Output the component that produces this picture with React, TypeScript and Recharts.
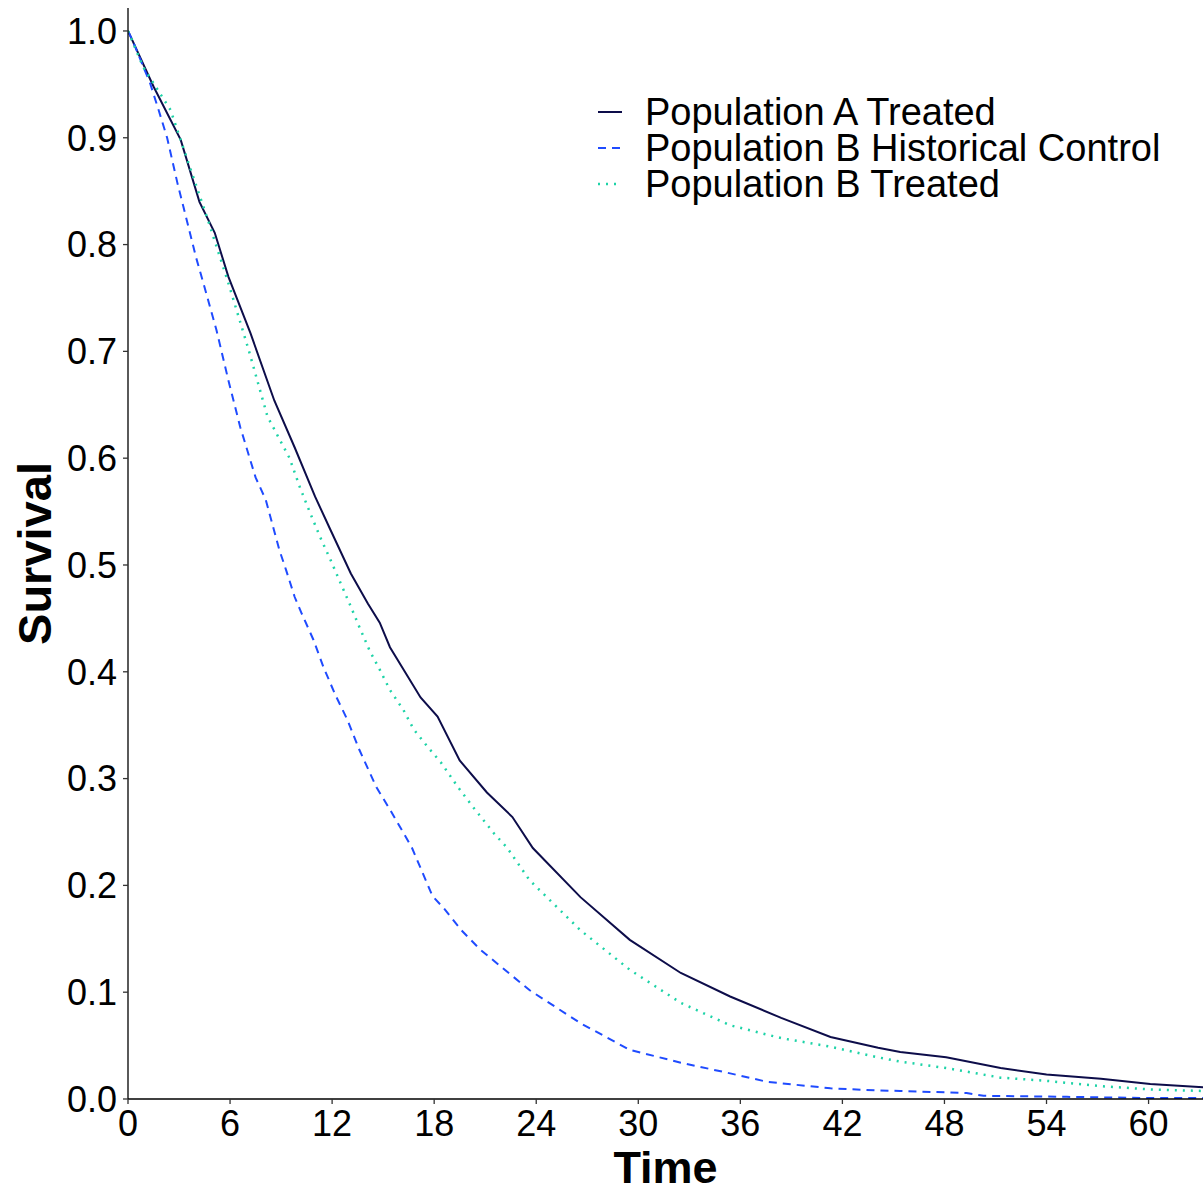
import { LineChart, Line, XAxis, YAxis } from 'recharts';

const FONT = '"Liberation Sans", Arial, sans-serif';

// Population A Treated (solid)
const timeA = [0, 1.5, 3.1, 4.2, 5.1, 5.9, 7.2, 8.6, 9.8, 11.0, 11.9, 13.1, 14.1, 14.8, 15.4, 17.2, 18.2, 19.5, 21.1, 22.6, 23.8, 26.6, 29.5, 32.5, 35.4, 38.4, 41.3, 44.1, 45.4, 48.1, 51.3, 54, 57.2, 60.1, 63.2];
const survA = [1, 0.948, 0.898, 0.84, 0.811, 0.77, 0.717, 0.654, 0.61, 0.564, 0.533, 0.492, 0.464, 0.446, 0.423, 0.376, 0.358, 0.317, 0.287, 0.264, 0.235, 0.189, 0.149, 0.118, 0.096, 0.076, 0.058, 0.048, 0.044, 0.039, 0.029, 0.023, 0.019, 0.014, 0.011];

// Population B Historical Control (dashed)
const timeBH = [0, 0.3, 1.3, 1.8, 2.3, 2.9, 3.5, 4.0, 4.5, 5.2, 5.9, 6.6, 7.5, 8.1, 8.9, 9.3, 9.8, 10.2, 10.9, 11.5, 12.2, 12.9, 13.6, 14.6, 15.4, 16.2, 16.7, 17.9, 18.6, 19.6, 20.7, 23.6, 26.6, 29.5, 32.5, 35.4, 37.6, 41.3, 44.1, 45.4, 49.3, 50.3, 55.2, 59.7, 63.2];
const survBH = [1, 0.99, 0.951, 0.926, 0.9, 0.858, 0.82, 0.788, 0.76, 0.72, 0.673, 0.629, 0.582, 0.561, 0.514, 0.495, 0.47, 0.455, 0.43, 0.404, 0.378, 0.355, 0.327, 0.292, 0.271, 0.249, 0.235, 0.19, 0.178, 0.158, 0.14, 0.102, 0.071, 0.046, 0.034, 0.024, 0.016, 0.01, 0.008, 0.0075, 0.0056, 0.003, 0.002, 0.001, 0.001];

// Population B Treated (dotted)
const timeBT = [0, 0.9, 2.5, 3.5, 4.7, 5.9, 7.1, 8.2, 9.5, 10.1, 10.7, 11.3, 11.9, 12.5, 13.1, 13.6, 14.2, 14.8, 15.4, 16.2, 16.8, 17.6, 18.4, 19.4, 20.3, 21.5, 22.3, 23.6, 26.6, 29.5, 32.5, 35.4, 38.4, 41.3, 44.1, 45.4, 48.1, 51.3, 54, 57.2, 60.1, 63.2];
const survBT = [1, 0.966, 0.926, 0.879, 0.823, 0.764, 0.701, 0.639, 0.6, 0.573, 0.549, 0.526, 0.505, 0.483, 0.461, 0.442, 0.42, 0.402, 0.383, 0.364, 0.346, 0.33, 0.315, 0.292, 0.273, 0.249, 0.235, 0.205, 0.158, 0.121, 0.09, 0.069, 0.057, 0.049, 0.039, 0.035, 0.029, 0.02, 0.017, 0.012, 0.009, 0.0075];

const xTicks = [0, 6, 12, 18, 24, 30, 36, 42, 48, 54, 60];
const yTicks = [0, 0.1, 0.2, 0.3, 0.4, 0.5, 0.6, 0.7, 0.8, 0.9, 1.0];

const seriesNames = ['Population A Treated', 'Population B Historical Control', 'Population B Treated'];
const seriesColors = ['#0d0d4a', '#1f4bff', '#1dd3a7'];
const seriesDash = ['', '8 6', '2 6'];

const toPoints = (t: number[], s: number[]) => t.map((time, i) => ({ time, survival: s[i] }));

const series = [toPoints(timeA, survA), toPoints(timeBH, survBH), toPoints(timeBT, survBT)];

function LegendBox() {
  return (
    <div
      style={{
        position: 'absolute',
        left: 596,
        top: 94,
        fontFamily: FONT,
        fontSize: 38,
        color: '#000',
        lineHeight: '36px',
        whiteSpace: 'nowrap',
      }}
    >
      {seriesNames.map((name, i) => (
        <div key={name} style={{ display: 'flex', alignItems: 'center', height: 36 }}>
          <svg width={49} height={36}>
            <line
              x1={2}
              x2={26}
              y1={18}
              y2={18}
              stroke={seriesColors[i]}
              strokeWidth={i === 2 ? 2.5 : 2}
              strokeDasharray={seriesDash[i] || undefined}
            />
          </svg>
          <span>{name}</span>
        </div>
      ))}
    </div>
  );
}

export default function App() {
  return (
    <div style={{ position: 'absolute', left: 0, top: 0, width: 1203, height: 1193, background: '#fff' }}>
      <LineChart width={1203} height={1193} margin={{ top: 8, right: 0, left: 0, bottom: 0 }}>
        <XAxis
          type="number"
          dataKey="time"
          domain={[0, 63.2]}
          ticks={xTicks}
          allowDataOverflow
          height={94}
          tickSize={5}
          tickMargin={6}
          axisLine={{ stroke: '#000', strokeWidth: 1.3 }}
          tickLine={{ stroke: '#333', strokeWidth: 1.3 }}
          tick={{ fontSize: 36, fill: '#000', fontFamily: FONT }}
          label={{
            content: ({ viewBox }: any) => (
              <text
                x={viewBox.x + viewBox.width / 2}
                y={viewBox.y + 84}
                textAnchor="middle"
                fontSize={45}
                fontWeight="bold"
                fontFamily={FONT}
                fill="#000"
              >
                Time
              </text>
            ),
          }}
        />
        <YAxis
          type="number"
          dataKey="survival"
          domain={[0, 1.0215]}
          ticks={yTicks}
          allowDataOverflow
          width={128}
          tickSize={5}
          tickMargin={6}
          tickFormatter={(v: number) => v.toFixed(1)}
          axisLine={{ stroke: '#000', strokeWidth: 1.3 }}
          tickLine={{ stroke: '#333', strokeWidth: 1.3 }}
          tick={{ fontSize: 36, fill: '#000', fontFamily: FONT }}
          label={{
            content: ({ viewBox }: any) => {
              const cx = 51;
              const cy = viewBox.y + viewBox.height / 2;
              return (
                <text
                  x={cx}
                  y={cy}
                  transform={`rotate(-90, ${cx}, ${cy})`}
                  textAnchor="middle"
                  fontSize={47}
                  fontWeight="bold"
                  fontFamily={FONT}
                  fill="#000"
                >
                  Survival
                </text>
              );
            },
          }}
        />
        {series.map((data, i) => (
          <Line
            key={seriesNames[i]}
            data={data}
            dataKey="survival"
            name={seriesNames[i]}
            type="linear"
            stroke={seriesColors[i]}
            strokeWidth={i === 2 ? 2.5 : 2}
            strokeDasharray={seriesDash[i] || undefined}
            dot={false}
            activeDot={false}
            isAnimationActive={false}
          />
        ))}
      </LineChart>
      <LegendBox />
    </div>
  );
}
